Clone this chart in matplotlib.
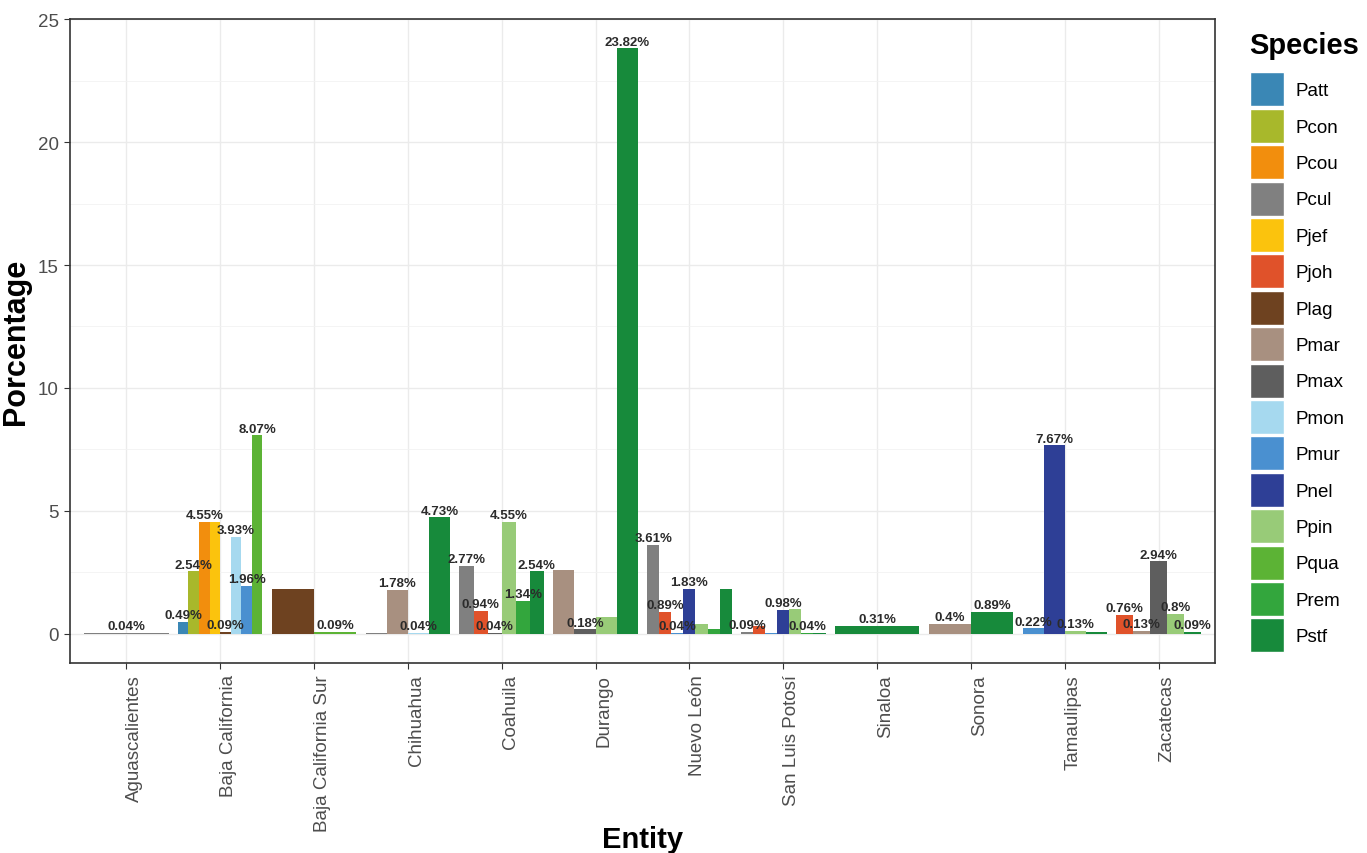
import matplotlib
matplotlib.use("Agg")
import matplotlib.pyplot as plt
from matplotlib.patches import Patch

plt.rcParams["font.family"] = ["Liberation Sans", "DejaVu Sans"]

entities = ["Aguascalientes", "Baja California", "Baja California Sur", "Chihuahua",
            "Coahuila", "Durango", "Nuevo León", "San Luis Potosí", "Sinaloa",
            "Sonora", "Tamaulipas", "Zacatecas"]

species = ["Patt", "Pcon", "Pcou", "Pcul", "Pjef", "Pjoh", "Plag", "Pmar",
           "Pmax", "Pmon", "Pmur", "Pnel", "Ppin", "Pqua", "Prem", "Pstf"]
species_colors = ["#3A87B5", "#A8B82B", "#F28E0D", "#808080", "#FBC30D", "#E0522A",
                  "#6E4220", "#A89080", "#5E5E5E", "#A6D9EF", "#4A90D0", "#2E3F96",
                  "#98CB78", "#5CB335", "#33A63D", "#178A3B"]

# species present in each entity, in dodge order
group_species = [
    ["Pcul"],
    ["Patt", "Pcon", "Pcou", "Pjef", "Plag", "Pmon", "Pmur", "Pqua"],
    ["Plag", "Pqua"],
    ["Pcul", "Pmar", "Pmon", "Pstf"],
    ["Pcul", "Pjoh", "Pmax", "Ppin", "Prem", "Pstf"],
    ["Pmar", "Pmax", "Ppin", "Pstf"],
    ["Pcul", "Pjoh", "Pmur", "Pnel", "Ppin", "Prem", "Pstf"],
    ["Pcul", "Pjoh", "Pmur", "Pnel", "Ppin", "Prem", "Pstf"],
    ["Pstf"],
    ["Pmar", "Pstf"],
    ["Pmur", "Pnel", "Ppin", "Pstf"],
    ["Pjoh", "Pmar", "Pmax", "Ppin", "Pstf"],
]
group_values = [
    [0.04],
    [0.49, 2.54, 4.55, 4.55, 0.09, 3.93, 1.96, 8.07],
    [1.83, 0.09],
    [0.04, 1.78, 0.04, 4.73],
    [2.77, 0.94, 0.04, 4.55, 1.34, 2.54],
    [2.60, 0.18, 0.70, 23.82],
    [3.61, 0.89, 0.04, 1.83, 0.40, 0.20, 1.83],
    [0.09, 0.33, 0.04, 0.98, 1.00, 0.04, 0.04],
    [0.31],
    [0.40, 0.89],
    [0.22, 7.67, 0.13, 0.05],
    [0.76, 0.13, 2.94, 0.80, 0.09],
]
# text shown above each bar (None where the original shows no label)
group_labels = [
    ["0.04%"],
    ["0.49%", "2.54%", "4.55%", None, "0.09%", "3.93%", "1.96%", "8.07%"],
    [None, "0.09%"],
    [None, "1.78%", "0.04%", "4.73%"],
    ["2.77%", "0.94%", "0.04%", "4.55%", "1.34%", "2.54%"],
    [None, "0.18%", None, "23.82%"],
    ["3.61%", "0.89%", "0.04%", "1.83%", None, None, None],
    ["0.09%", None, None, "0.98%", None, "0.04%", None],
    ["0.31%"],
    ["0.4%", "0.89%"],
    ["0.22%", "7.67%", "0.13%", None],
    ["0.76%", "0.13%", "2.94%", "0.8%", "0.09%"],
]

color_of = dict(zip(species, species_colors))

fig = plt.figure(figsize=(13.67, 8.54), dpi=100)
ax = fig.add_axes([70 / 1367, 190 / 854, 1145 / 1367, 644 / 854])

group_width = 0.9
for i, (sp, vals, labs) in enumerate(zip(group_species, group_values, group_labels)):
    w = group_width / len(sp)
    xs = [i - group_width / 2 + (j + 0.5) * w for j in range(len(sp))]
    ax.bar(xs, vals, width=w, color=[color_of[s] for s in sp], zorder=3)
    for x, v, lab in zip(xs, vals, labs):
        if lab is None:
            continue
        ax.annotate(lab, (x, v), xytext=(0, 0.5), textcoords="offset points",
                    ha="center", va="bottom", fontsize=9.5, fontweight="bold",
                    color="#2b2b2b", zorder=4)

ax.set_xlim(-0.6, len(entities) - 0.4)
ax.set_ylim(-1.191, 25.011)
ax.set_xticks(range(len(entities)))
ax.set_xticklabels(entities, rotation=90, ha="left", va="top")
ax.set_yticks([0, 5, 10, 15, 20, 25])
ax.set_yticks([2.5, 7.5, 12.5, 17.5, 22.5], minor=True)

ax.grid(which="major", color="#EBEBEB", linewidth=1.0, zorder=0)
ax.grid(which="minor", axis="y", color="#F2F2F2", linewidth=0.6, zorder=0)
ax.set_axisbelow(True)
ax.tick_params(axis="both", which="major", length=4, width=0.8, color="#333333",
               labelsize=13.5, labelcolor="#4D4D4D", pad=4)
ax.tick_params(axis="y", which="minor", length=0)
for spine in ax.spines.values():
    spine.set_color("#333333")
    spine.set_linewidth(1.2)

ax.set_xlabel("Entity", fontsize=21, fontweight="bold")
ax.xaxis.set_label_coords(0.5, -0.252)
ax.set_ylabel("Porcentage", fontsize=22, fontweight="bold")
ax.yaxis.set_label_coords(-0.034, 0.5)

handles = [Patch(facecolor=c, edgecolor="white", linewidth=1.0) for c in species_colors]
leg = fig.legend(handles, species, loc="upper left", bbox_to_anchor=(1242 / 1367, 1 - 24 / 854),
                 frameon=False, title="Species", alignment="left",
                 title_fontproperties={"size": 21, "weight": "bold"},
                 fontsize=13.5, handlelength=1.85, handleheight=2.41,
                 labelspacing=0.13, handletextpad=0.6, borderaxespad=0)
leg._legend_box.sep = 10

fig.savefig("out.png", dpi=100, facecolor="white")
